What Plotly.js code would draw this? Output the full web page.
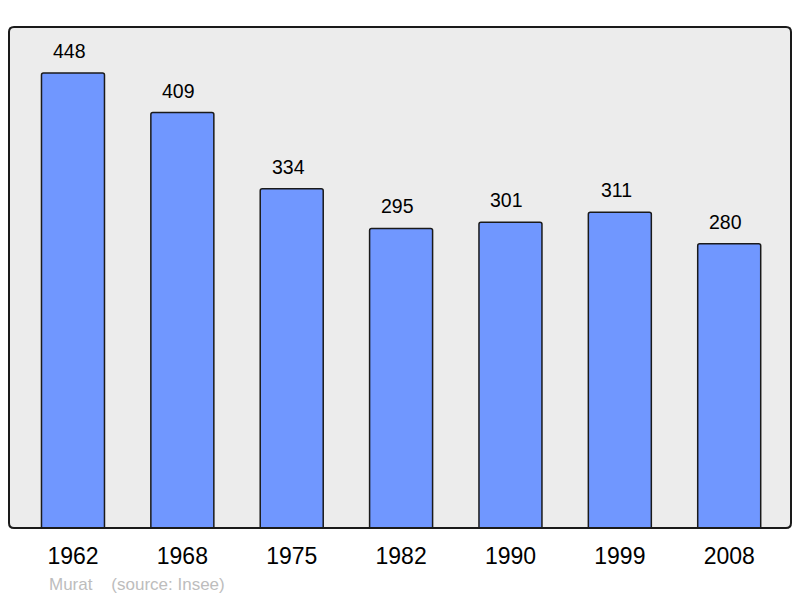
<!DOCTYPE html>
<html><head><meta charset="utf-8">
<script src="https://cdn.plot.ly/plotly-3.0.1.min.js"></script>
<style>html,body{margin:0;padding:0;background:#fff;}#chart{width:800px;height:598px;}</style>
</head><body><div id="chart"></div>
<script>
const years = ["1962","1968","1975","1982","1990","1999","2008"];
const population = [448, 409, 334, 295, 301, 311, 280];
const commune = "Murat";
const source = "(source: Insee)";

const trace = {
  type: 'bar', x: years, y: population,
  width: 0.576,
  marker: {color: '#7097ff', line: {color: '#1a1a1a', width: 1.5}, cornerradius: 2},
  hoverinfo: 'none'
};
const annotations = years.map((yr, i) => ({
  x: i, y: population[i], xref: 'x', yref: 'y',
  text: String(population[i]), showarrow: false,
  yanchor: 'middle', yshift: 22, xshift: -3.5,
  font: {family: 'Liberation Sans, Arial, sans-serif', size: 19.5, color: '#000'}
}));
annotations.push({
  xref: 'paper', yref: 'paper', x: 0.048, y: -0.112, xanchor: 'left', yanchor: 'middle',
  text: commune + '&nbsp;&nbsp;&nbsp;&nbsp;' + source, showarrow: false,
  font: {family: 'Liberation Sans, Arial, sans-serif', size: 17, color: '#bdbdbd'}
});
// rounded frame (radius ~5px) in paper coordinates
const rx = 5 / 782, ry = 5 / 501;
const framePath = `M ${rx},0 L ${1 - rx},0 Q 1,0 1,${ry} L 1,${1 - ry} Q 1,1 ${1 - rx},1 ` +
  `L ${rx},1 Q 0,1 0,${1 - ry} L 0,${ry} Q 0,0 ${rx},0 Z`;
const layout = {
  width: 800, height: 598,
  margin: {l: 9, r: 9, t: 27, b: 70, pad: 0},
  paper_bgcolor: '#ffffff', plot_bgcolor: '#ececec',
  showlegend: false,
  xaxis: {type: 'category', range: [-0.585, 6.565], showgrid: false, zeroline: false, showline: false,
    ticks: '', tickfont: {family: 'Liberation Sans, Arial, sans-serif', size: 23, color: '#000'}, ticklabelstandoff: 12},
  yaxis: {range: [0, 493.3], showgrid: false, zeroline: false, showline: false, showticklabels: false, ticks: ''},
  annotations: annotations,
  shapes: [{type: 'path', xref: 'paper', yref: 'paper', path: framePath,
    line: {color: '#1a1a1a', width: 2}, fillcolor: 'rgba(0,0,0,0)', layer: 'above'}]
};
Plotly.newPlot('chart', [trace], layout, {displayModeBar: false, staticPlot: true});
</script></body></html>
